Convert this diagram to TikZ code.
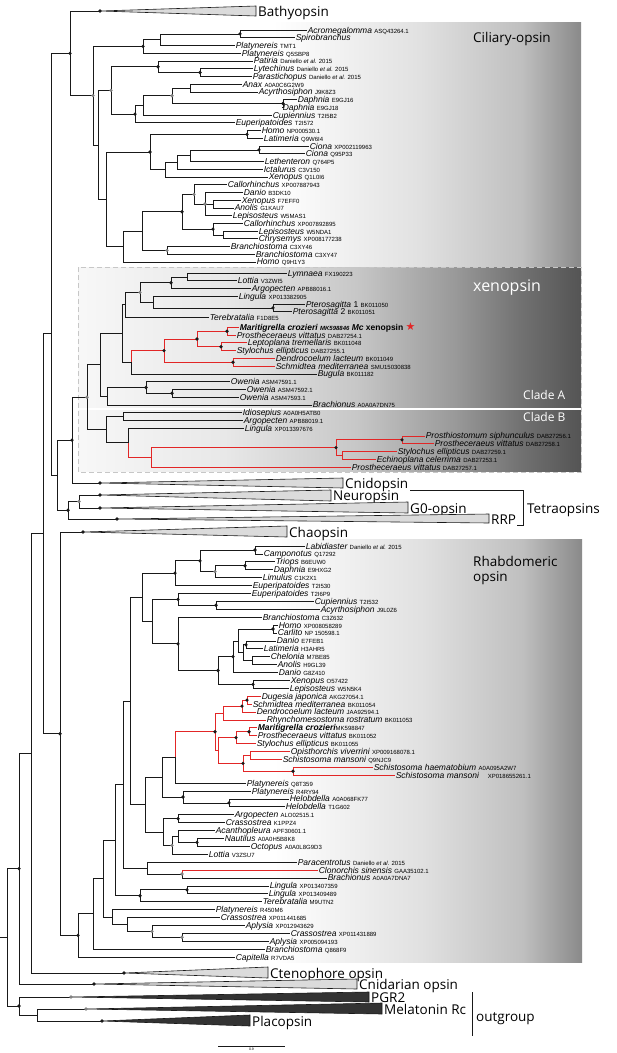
\documentclass[tikz,border=0pt]{standalone}
\usepackage{fontspec}
\setmainfont{Liberation Sans}
\newfontfamily\bigf{Open Sans}
\newfontfamily\symf{DejaVu Sans}
\usetikzlibrary{calc}
\definecolor{rd}{RGB}{226,38,38}
\definecolor{ln}{RGB}{25,25,25}
\definecolor{gd}{RGB}{130,130,130}
\pgfdeclarehorizontalshading{cilsh}{100bp}{color(0bp)=(white); color(44bp)=(white); color(49bp)=(black!4); color(59bp)=(black!12); color(69bp)=(black!25); color(75bp)=(black!46); color(100bp)=(black!46)}
\pgfdeclarehorizontalshading{xensh}{100bp}{color(0bp)=(black!3); color(25bp)=(black!3); color(39.5bp)=(black!9); color(52.7bp)=(black!22); color(62.5bp)=(black!40); color(69.2bp)=(black!56); color(75bp)=(black!67); color(100bp)=(black!67)}
\newcommand\yc[1]{30+7.733*#1}
\newcommand\yx[1]{273+7.76*#1}
\newcommand\yr[1]{546+7.904*#1}
\newcommand\ac[1]{{\fontsize{6}{6}\selectfont\upshape #1}}
\newcommand\dan{\ac{Daniello \textit{et al.} 2015}}
\newcommand\lf[4]{\coordinate (#1) at (#2,{#3}); \node[lab] (#1l) at (#1) {#4};}
\newcommand\nd[4]{\path let \p1=(#3), \p2=(#4) in coordinate (#1) at (#2pt,{(\y1+\y2)/2});}
\newcommand\kids[3][bl]{\foreach \ch in {#3} {\draw[#1] (#2) |- (\ch);}}
\newcommand\clps[8]{\coordinate (#1) at (#2,#3); \filldraw[#7] (#1) -- (#4,#5) -- (#4,#6) -- cycle; \node[bigl] (#1l) at ({#4+2},#3) {#8};}
\begin{document}
\begin{tikzpicture}[x=1pt,y=-1pt,
 bl/.style={draw=ln,line width=0.7pt},
 rl/.style={draw=rd,line width=0.7pt},
 lab/.style={anchor=base west,inner sep=0.6pt,yshift=-3pt,font=\fontsize{8.5}{9}\selectfont\itshape},
 bigl/.style={anchor=base west,inner sep=0pt,yshift=-5pt,font=\bigf\fontsize{13.5}{14}\selectfont},
 boxt/.style={anchor=base west,inner sep=0pt,font=\bigf\fontsize{13.5}{14}\selectfont},
 tril/.style={draw=ln,line width=0.6pt,fill=black!14},
 trid/.style={draw=ln,line width=0.6pt,fill=black!80}]
\useasboundingbox (0,0) rectangle (617,1053);
% background boxes
\shade[shading=cilsh] (85,22) rectangle (581,266);
\shade[shading=xensh] (78,267) rectangle (581,407);
\shade[shading=xensh] (78,410) rectangle (581,471);
\draw[draw=black!22,line width=0.8pt,dash pattern=on 5pt off 3pt] (78,267) rectangle (581,472);
\shade[shading=cilsh] (85,539) rectangle (582,962);
% ---------------- ciliary leaves
\lf{acro}{307}{\yc{0}}{Acromegalomma \ac{ASQ43264.1}}
\lf{spiro}{295}{\yc{1}}{Spirobranchus}
\lf{platmt}{235}{\yc{2}}{Platynereis \ac{TMT1}}
\lf{plaq}{241}{\yc{3}}{Platynereis \ac{Q5SBP8}}
\lf{pati}{253}{\yc{4}}{Patiria \dan}
\lf{lyte}{253}{\yc{5}}{Lytechinus \dan}
\lf{para}{252}{\yc{6}}{Parastichopus \dan}
\lf{anax}{242}{\yc{7}}{Anax \ac{A0A0C6G2W9}}
\lf{acyr}{258}{\yc{8}}{Acyrthosiphon \ac{J9K8Z3}}
\lf{daphA}{297}{\yc{9}}{Daphnia \ac{E9GJ16}}
\lf{daphB}{282}{\yc{10}}{Daphnia \ac{E9GJ18}}
\lf{cupi}{272}{\yc{11}}{Cupiennius \ac{T2I5B2}}
\lf{eupe}{235}{\yc{12}}{Euperipatoides \ac{T2I572}}
\lf{homoA}{261}{\yc{13}}{Homo \ac{NP000530.1}}
\lf{lati}{263}{\yc{14}}{Latimeria \ac{Q9W6I4}}
\lf{cioA}{309}{\yc{15}}{Ciona \ac{XP002119963}}
\lf{cioB}{305}{\yc{16}}{Ciona \ac{Q95P33}}
\lf{leth}{264}{\yc{17}}{Lethenteron \ac{Q764P5}}
\lf{icta}{263}{\yc{18}}{Ictalurus \ac{C3V150}}
\lf{xenA}{268}{\yc{19}}{Xenopus \ac{Q1L0I6}}
\lf{calA}{227}{\yc{20}}{Callorhinchus \ac{XP007887943}}
\lf{danA}{243}{\yc{21}}{Danio \ac{B3DK10}}
\lf{xenB}{241}{\yc{22}}{Xenopus \ac{F7EFF0}}
\lf{anoA}{234}{\yc{23}}{Anolis \ac{G1KAU7}}
\lf{lepA}{232}{\yc{24}}{Lepisosteus \ac{W5MAS1}}
\lf{calB}{243}{\yc{25}}{Callorhinchus \ac{XP007892895}}
\lf{lepB}{258}{\yc{26}}{Lepisosteus \ac{W5NDA1}}
\lf{chry}{258}{\yc{27}}{Chrysemys \ac{XP008177238}}
\lf{brA}{230}{\yc{28}}{Branchiostoma \ac{C3XY46}}
\lf{brB}{255}{\yc{29}}{Branchiostoma \ac{C3XY47}}
\lf{homoB}{256}{\yc{30}}{Homo \ac{Q9H1Y3}}
% ---------------- xenopsin leaves
\lf{lymn}{287}{\yx{0}}{Lymnaea \ac{FX190223}}
\lf{lott}{237}{\yx{1}}{Lottia \ac{V3ZWI5}}
\lf{argo}{251}{\yx{2}}{Argopecten \ac{APB88016.1}}
\lf{ling}{238}{\yx{3}}{Lingula \ac{XP013382905}}
\lf{ptA}{305}{\yx{4}}{Pterosagitta \textup{1} \ac{BK011050}}
\lf{ptB}{292}{\yx{5}}{Pterosagitta \textup{2} \ac{BK011051}}
\lf{tere}{209}{317}{Terebratalia \ac{F1D8E5}}
\lf{mari}{239}{\yx{7}}{\textbf{Maritigrella crozieri \ac{\bfseries\itshape MK598846} Mc \upshape xenopsin} {\symf\mdseries\upshape\fontsize{11}{11}\selectfont\textcolor{rd}{★}}}
\lf{pvA}{236}{\yx{8}}{Prostheceraeus vittatus \ac{DAB27254.1}}
\lf{lept}{247}{\yx{9}}{Leptoplana tremellaris \ac{BK011048}}
\lf{styA}{236}{\yx{10}}{Stylochus ellipticus \ac{DAB27255.1}}
\lf{dendA}{275}{\yx{11}}{Dendrocoelum lacteum \ac{BK011049}}
\lf{schA}{275}{\yx{12}}{Schmidtea mediterranea \ac{SMU15030838}}
\lf{bugu}{317}{\yx{13}}{Bugula \ac{BK011182}}
\lf{owA}{230}{\yx{14}}{Owenia \ac{ASM47591.1}}
\lf{owB}{246}{\yx{15}}{Owenia \ac{ASM47592.1}}
\lf{owC}{239}{\yx{16}}{Owenia \ac{ASM47593.1}}
\lf{bracA}{312}{\yx{17}}{Brachionus \ac{A0A0A7DN75}}
\lf{idio}{242}{\yx{18}}{Idiosepius \ac{A0A0H5ATB0}}
\lf{argB}{243}{\yx{19}}{Argopecten \ac{APB88019.1}}
\lf{linB}{244}{\yx{20}}{Lingula \ac{XP013397676}}
\lf{psip}{425}{\yx{21}}{Prosthiostomum siphunculus \ac{DAB27256.1}}
\lf{pvB}{434}{\yx{22}}{Prostheceraeus vittatus \ac{DAB27258.1}}
\lf{styB}{397}{\yx{23}}{Stylochus ellipticus \ac{DAB27259.1}}
\lf{echi}{376}{\yx{24}}{Echinoplana celerrima \ac{DAB27253.1}}
\lf{pvC}{351}{\yx{25}}{Prostheceraeus vittatus \ac{DAB27257.1}}
% ---------------- rhabdomeric leaves
\lf{labi}{305}{\yr{0}}{Labidiaster \dan}
\lf{camp}{263}{\yr{1}}{Camponotus \ac{Q17292}}
\lf{trio}{275}{\yr{2}}{Triops \ac{B6EUW0}}
\lf{daphC}{273}{\yr{3}}{Daphnia \ac{E9HXG2}}
\lf{limu}{262}{\yr{4}}{Limulus \ac{C1K2X1}}
\lf{euB}{252}{\yr{5}}{Euperipatoides \ac{T2I530}}
\lf{euC}{251}{\yr{6}}{Euperipatoides \ac{T2I6P9}}
\lf{cupB}{314}{\yr{7}}{Cupiennius \ac{T2I532}}
\lf{acyB}{320}{\yr{8}}{Acyrthosiphon \ac{J9L0Z6}}
\lf{brC}{262}{\yr{9}}{Branchiostoma \ac{C3Z632}}
\lf{homoC}{278}{\yr{10}}{Homo \ac{XP008058289}}
\lf{carl}{277}{\yr{11}}{Carlito \ac{NP 150598.1}}
\lf{danB}{276}{\yr{12}}{Danio \ac{E7FEB1}}
\lf{latB}{263}{\yr{13}}{Latimeria \ac{H3AHR5}}
\lf{chel}{270}{\yr{14}}{Chelonia \ac{M7BE85}}
\lf{anoB}{277}{\yr{15}}{Anolis \ac{H9GL39}}
\lf{danC}{278}{\yr{16}}{Danio \ac{G8Z410}}
\lf{xenC}{290}{\yr{17}}{Xenopus \ac{O57422}}
\lf{lepC}{289}{\yr{18}}{Lepisosteus \ac{W5N5K4}}
\lf{duge}{261}{\yr{19}}{Dugesia japonica \ac{AKG27054.1}}
\lf{schB}{252}{\yr{20}}{Schmidtea mediterranea \ac{BK011054}}
\lf{dendB}{256}{\yr{21}}{Dendrocoelum lacteum \ac{JAA92594.1}}
\lf{rhyn}{266}{\yr{22}}{Rhynchomesostoma rostratum \ac{BK011053}}
\lf{mariB}{257}{\yr{23}}{\textbf{Maritigrella crozieri}\ac{MK598847}}
\lf{pvD}{257}{\yr{24}}{Prostheceraeus vittatus \ac{BK011052}}
\lf{styC}{256}{\yr{25}}{Stylochus ellipticus \ac{BK011055}}
\lf{opis}{290}{\yr{26}}{Opisthorchis viverrini \ac{XP009168078.1}}
\lf{smA}{282}{\yr{27}}{Schistosoma mansoni \ac{Q9NJC9}}
\lf{shae}{373}{\yr{28}}{Schistosoma haematobium \ac{A0A095A2W7}}
\lf{smB}{395}{\yr{29}}{Schistosoma mansoni}
\node[lab] (smBacc) at (487,{\yr{29}}) {\ac{XP018655261.1}};
\lf{plQ}{246}{\yr{30}}{Platynereis \ac{Q8T359}}
\lf{plR}{251}{\yr{31}}{Platynereis \ac{R4RY94}}
\lf{helA}{289}{\yr{32}}{Helobdella \ac{A0A068FK77}}
\lf{helB}{285}{\yr{33}}{Helobdella \ac{T1G602}}
\lf{argC}{234}{\yr{34}}{Argopecten \ac{ALO02515.1}}
\lf{crA}{225}{\yr{35}}{Crassostrea \ac{K1PPZ4}}
\lf{acan}{215}{\yr{36}}{Acanthopleura \ac{APF30601.1}}
\lf{naut}{224}{\yr{37}}{Nautilus \ac{A0A0H5B8K8}}
\lf{octo}{250}{\yr{38}}{Octopus \ac{A0A0L8G9D3}}
\lf{lotB}{208}{\yr{39}}{Lottia \ac{V3ZSU7}}
\lf{parc}{297}{\yr{40}}{Paracentrotus \dan}
\lf{clon}{318}{\yr{41}}{Clonorchis sinensis \ac{GAA35102.1}}
\lf{bracB}{327}{\yr{42}}{Brachionus \ac{A0A0A7DNA7}}
\lf{linC}{269}{\yr{43}}{Lingula \ac{XP013407359}}
\lf{linD}{268}{\yr{44}}{Lingula \ac{XP013409489}}
\lf{terB}{262}{\yr{45}}{Terebratalia \ac{M9UTN2}}
\lf{plS}{215}{\yr{46}}{Platynereis \ac{R450M6}}
\lf{crB}{220}{\yr{47}}{Crassostrea \ac{XP011441685}}
\lf{apA}{245}{\yr{48}}{Aplysia \ac{XP012943629}}
\lf{crC}{290}{\yr{49}}{Crassostrea \ac{XP011431889}}
\lf{apB}{269}{\yr{50}}{Aplysia \ac{XP005094193}}
\lf{brD}{265}{\yr{51}}{Branchiostoma \ac{Q868F9}}
\lf{capi}{235}{\yr{52}}{Capitella \ac{R7VDA5}}
% ---------------- collapsed clades
\clps{bath}{100}{11}{256}{6}{16}{tril}{Bathyopsin}
\clps{cnid}{100}{483}{343}{478}{488}{tril}{Cnidopsin}
\clps{neur}{100}{495}{331}{490}{501}{tril}{Neuropsin}
\clps{gzero}{100}{508}{408}{502}{513}{tril}{G0-opsin}
\clps{rrp}{117}{519}{489}{514}{523}{tril}{RRP}
\clps{chao}{83}{532}{287}{526}{537}{tril}{Chaopsin}
\clps{cten}{124}{973}{268}{967}{978}{tril}{Ctenophore opsin}
\clps{cnda}{94}{984}{357}{979}{989}{tril}{Cnidarian opsin}
\clps{pgr}{71}{997}{369}{992}{1002}{trid}{PGR2}
\clps{mel}{86}{1009}{382}{1003}{1014}{trid}{Melatonin Rc}
\clps{plac}{102}{1021}{250}{1015}{1026}{trid}{Placopsin}
% ---------------- internal nodes: ciliary
\nd{c1b}{240}{acro}{spiro}
\nd{c1a}{160}{c1b}{platmt}
\nd{c1}{143}{c1a}{plaq}
\nd{lp}{200}{lyte}{para}
\nd{c2}{158}{pati}{lp}
\nd{aa}{190}{anax}{acyr}
\nd{dd}{283}{daphA}{daphB}
\nd{n172}{172}{aa}{dd}
\nd{n143}{143}{n172}{cupi}
\nd{n135}{135}{n143}{eupe}
\nd{n111}{111}{c2}{n135}
\nd{hl}{247}{homoA}{lati}
\nd{cc}{259}{cioA}{cioB}
\nd{v1}{190}{cc}{leth}
\nd{v2}{177}{v1}{icta}
\nd{v3}{165}{v2}{xenA}
\nd{v4}{150}{hl}{v3}
\nd{xa}{213}{xenB}{anoA}
\nd{g1}{205}{danA}{lepA}
\nd{g3}{194}{calA}{g1}
\nd{lc}{223}{lepB}{chry}
\nd{cl2}{213}{calB}{lc}
\nd{g4}{182}{g3}{cl2}
\nd{bp}{167}{brA}{brB}
\nd{b1}{142}{g4}{bp}
\nd{b2}{123}{b1}{homoB}
\nd{n106}{106}{v4}{b2}
\nd{n98}{98}{n111}{n106}
\nd{cil}{93}{c1}{n98}
\nd{b0}{70}{bath}{cil}
% xenopsin
\nd{ll}{187}{lymn}{lott}
\nd{la}{171}{ll}{argo}
\nd{ptn}{273}{ptA}{ptB}
\nd{lp2}{153}{ling}{ptn}
\nd{lal}{140}{la}{lp2}
\nd{lt}{125}{lal}{tere}
\nd{f2}{227}{mari}{pvA}
\nd{f3}{221}{lept}{styA}
\nd{f1}{197}{f2}{f3}
\nd{ds}{233}{dendA}{schA}
\nd{fw}{164}{f1}{ds}
\nd{fb}{131}{fw}{bugu}
\nd{n122}{122}{lt}{fb}
\nd{ow2n}{172}{owB}{owC}
\nd{own}{146}{owA}{ow2n}
\nd{ob}{107}{own}{bracA}
\nd{ca}{100}{n122}{ob}
\nd{ia}{123}{idio}{argB}
\nd{pp}{402}{psip}{pvB}
\nd{se}{342}{styB}{echi}
\nd{rr}{336}{pp}{se}
\nd{rn}{151}{rr}{pvC}
\nd{lnode}{128}{linB}{rn}
\nd{cb}{106}{ia}{lnode}
\nd{xn}{87}{ca}{cb}
\nd{xt}{72}{xn}{cnid}
\nd{ng}{79}{neur}{gzero}
\nd{ngr}{68}{ng}{rrp}
\nd{n57}{57}{xt}{ngr}
\coordinate (n51) at (51,333);
% rhabdomeric
\nd{lcn}{255}{labi}{camp}
\nd{td}{245}{trio}{daphC}
\nd{tdl}{215}{td}{limu}
\nd{n200}{200}{lcn}{tdl}
\nd{na175}{175}{n200}{euB}
\nd{ca3}{216}{cupB}{acyB}
\nd{epca}{178}{euC}{ca3}
\nd{hc}{273}{homoC}{carl}
\nd{dl}{246}{danB}{latB}
\nd{can}{252}{chel}{anoB}
\nd{dlca}{243}{dl}{can}
\nd{n238}{238}{hc}{dlca}
\nd{n233}{233}{n238}{danC}
\nd{xl}{253}{xenC}{lepC}
\nd{n218}{218}{n233}{xl}
\nd{bv}{178}{brC}{n218}
\nd{n152}{152}{epca}{bv}
\nd{n142}{142}{na175}{n152}
\nd{ds2}{247}{duge}{schB}
\nd{dsd}{242}{ds2}{dendB}
\nd{dr}{223}{dsd}{rhyn}
\nd{mp2}{249}{mariB}{pvD}
\nd{mps}{236}{mp2}{styC}
\nd{os}{250}{opis}{smA}
\nd{shm}{293}{shae}{smB}
\nd{n243}{243}{os}{shm}
\nd{n218b}{218}{mps}{n243}
\nd{fr}{215}{dr}{n218b}
\nd{nr175}{175}{fr}{plQ}
\nd{hh}{229}{helA}{helB}
\nd{ph}{183}{plR}{hh}
\nd{n162}{162}{nr175}{ph}
\nd{ac2}{178}{argC}{crA}
\nd{no}{197}{naut}{octo}
\nd{ano}{178}{acan}{no}
\nd{anl}{172}{ano}{lotB}
\nd{mol}{163}{ac2}{anl}
\nd{n148}{145}{n162}{mol}
\nd{n130}{130}{n142}{n148}
\nd{cb2}{182}{clon}{bracB}
\nd{pcb}{147}{parc}{cb2}
\nd{n123}{123}{n130}{pcb}
\nd{ll2}{187}{linC}{linD}
\nd{lt2}{140}{ll2}{terB}
\nd{n115}{115}{n123}{lt2}
\nd{ca2}{182}{crC}{apB}
\nd{acn}{152}{apA}{ca2}
\nd{cac}{127}{crB}{acn}
\nd{pca}{112}{plS}{cac}
\nd{n103}{103}{n115}{pca}
\nd{n93}{93}{n103}{brD}
\nd{rh0}{78}{n93}{capi}
\nd{rc}{60}{chao}{rh0}
\nd{n43}{43}{n51}{rc}
\nd{n31}{31}{n43}{cten}
\nd{n19}{19}{n31}{cnda}
\nd{mp}{37}{mel}{plac}
\nd{og}{19}{pgr}{mp}
\nd{root}{7}{n19}{og}
% ---------------- branches
\kids{c1b}{acro,spiro}\kids{c1a}{c1b,platmt}\kids{c1}{c1a,plaq}
\kids{lp}{lyte,para}\kids{c2}{pati,lp}\kids{aa}{anax,acyr}\kids{dd}{daphA,daphB}
\kids{n172}{aa,dd}\kids{n143}{n172,cupi}\kids{n135}{n143,eupe}\kids{n111}{c2,n135}
\kids{hl}{homoA,lati}\kids{cc}{cioA,cioB}\kids{v1}{cc,leth}\kids{v2}{v1,icta}\kids{v3}{v2,xenA}\kids{v4}{hl,v3}
\kids{xa}{xenB,anoA}\kids{g1}{danA,xa,lepA}\kids{g3}{calA,g1}\kids{lc}{lepB,chry}\kids{cl2}{calB,lc}\kids{g4}{g3,cl2}
\kids{bp}{brA,brB}\kids{b1}{g4,bp}\kids{b2}{b1,homoB}\kids{n106}{v4,b2}\kids{n98}{n111,n106}\kids{cil}{c1,n98}\kids{b0}{bath,cil}
\kids{ll}{lymn,lott}\kids{la}{ll,argo}\kids{ptn}{ptA,ptB}\kids{lp2}{ling,ptn}\kids{lal}{la,lp2}\kids{lt}{lal,tere}
\kids[rl]{f2}{mari,pvA}\kids[rl]{f3}{lept,styA}\kids[rl]{f1}{f2,f3}\kids[rl]{ds}{dendA,schA}\kids[rl]{fw}{f1,ds}
\kids[rl]{fb}{fw}\kids{fb}{bugu}\kids{n122}{lt,fb}
\kids{ow2n}{owB,owC}\kids{own}{owA,ow2n}\kids{ob}{own,bracA}\kids{ca}{n122,ob}
\kids{ia}{idio,argB}\kids[rl]{pp}{psip,pvB}\kids[rl]{se}{styB,echi}\kids[rl]{rr}{pp,se}\kids[rl]{rn}{rr,pvC}
\kids{lnode}{linB}\kids[rl]{lnode}{rn}\kids{cb}{ia,lnode}\kids{xn}{ca,cb}\kids{xt}{xn,cnid}
\kids{ng}{neur,gzero}\kids{ngr}{ng,rrp}\kids{n57}{xt,ngr}\kids{n51}{b0,n57}
\kids{lcn}{labi,camp}\kids{td}{trio,daphC}\kids{tdl}{td,limu}\kids{n200}{lcn,tdl}\kids{na175}{n200,euB}
\kids{ca3}{cupB,acyB}\kids{epca}{euC,ca3}\kids{hc}{homoC,carl}\kids{dl}{danB,latB}\kids{can}{chel,anoB}
\kids{dlca}{dl,can}\kids{n238}{hc,dlca}\kids{n233}{n238,danC}\kids{xl}{xenC,lepC}\kids{n218}{n233,xl}
\kids{bv}{brC,n218}\kids{n152}{epca,bv}\kids{n142}{na175,n152}
\kids[rl]{ds2}{duge,schB}\kids[rl]{dsd}{ds2,dendB}\kids[rl]{dr}{dsd,rhyn}\kids[rl]{mp2}{mariB,pvD}\kids[rl]{mps}{mp2,styC}
\kids[rl]{os}{opis,smA}\kids[rl]{shm}{shae,smB}\kids[rl]{n243}{os,shm}\kids[rl]{n218b}{mps,n243}\kids[rl]{fr}{dr,n218b}
\kids[rl]{nr175}{fr}\kids{nr175}{plQ}\kids{hh}{helA,helB}\kids{ph}{plR,hh}\kids{n162}{nr175,ph}
\kids{ac2}{argC,crA}\kids{no}{naut,octo}\kids{ano}{acan,no}\kids{anl}{ano,lotB}\kids{mol}{ac2,anl}
\kids{n148}{n162,mol}\kids{n130}{n142,n148}\kids[rl]{cb2}{clon}\kids{cb2}{bracB}\kids{pcb}{parc,cb2}\kids{n123}{n130,pcb}
\kids{ll2}{linC,linD}\kids{lt2}{ll2,terB}\kids{n115}{n123,lt2}\kids{ca2}{crC,apB}\kids{acn}{apA,ca2}\kids{cac}{crB,acn}
\kids{pca}{plS,cac}\kids{n103}{n115,pca}\kids{n93}{n103,brD}\kids{rh0}{n93,capi}\kids{rc}{chao,rh0}
\kids{n43}{n51,rc}\kids{n31}{n43,cten}\kids{n19}{n31,cnda}\kids{mp}{mel,plac}\kids{og}{pgr,mp}\kids{root}{n19,og}
\draw[bl] (root) -- (0,0 |- root);
% ---------------- support dots
\foreach \n in {b0,bath,c1,c1b,c2,lp,dd,n135,hl,v4,cc,g4,cl2,la,ptn,f1,f2,f3,fw,ds,own,ow2n,rr,pp,xt,cnid,neur,gzero,ngr,rrp,chao,lcn,td,n200,na175,epca,ca3,bv,hc,dl,n233,n218,xl,ds2,dsd,fr,mp2,mps,n243,shm,ph,hh,ac2,no,ll2,lt2,rh0,rc,cten,cnda,plac,og,n19}
 {\fill[ln] (\n) circle (1.8);}
\foreach \n in {cil,n111,n172,g3,g1,bp,lal,xn,ng,tdl,anl,cb2,acn,ca2,pgr,mel}
 {\fill[gd] (\n) circle (1.8);}
% ---------------- group labels
\node[boxt] (cilt) at (473,42) {Ciliary-opsin};
\node[boxt,text=white,font=\bigf\fontsize{16}{17}\selectfont] (xent) at (473,291) {xenopsin};
\node[boxt,text=white,font=\bigf\fontsize{12}{13}\selectfont] (clat) at (523,399) {Clade A};
\node[boxt,text=white,font=\bigf\fontsize{12}{13}\selectfont] (clbt) at (523,421) {Clade B};
\node[boxt] (rht) at (473,566) {Rhabdomeric};
\node[boxt] (rht2) at (473,581) {opsin};
\coordinate (tb1) at (410,490); \coordinate (tb2) at (523,490);
\coordinate (tb3) at (523,525); \coordinate (tb4) at (517,525);
\draw[bl,line width=0.7pt] (tb1) -- (tb2) -- (tb3) -- (tb4);
\node[boxt] (tetr) at (527,513) {Tetraopsins};
\coordinate (og1) at (472,992); \coordinate (og2) at (472,1036);
\draw[bl,line width=0.7pt] (og1) -- (og2);
\node[boxt] (outg) at (476,1021) {outgroup};
\coordinate (sb1) at (218,1046); \coordinate (sb2) at (285,1046);
\draw[bl,line width=0.6pt] (sb1) -- (sb2);
\node[font=\fontsize{3.5}{4}\selectfont,inner sep=0pt,anchor=north] (sbl) at (251.5,1048) {0.9};
\end{tikzpicture}
\end{document}
